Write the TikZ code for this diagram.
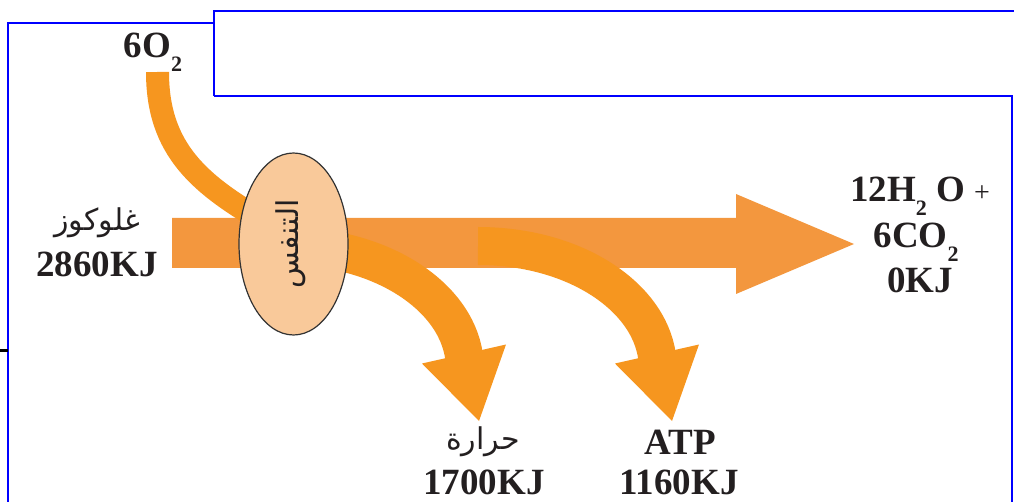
\documentclass[tikz,border=0pt]{standalone}
\usepackage{fontspec}
\usetikzlibrary{shapes.geometric}
\setmainfont{Liberation Serif}
\newfontfamily\arabicfont[Script=Arabic]{DejaVu Sans}
\TeXXeTstate=1
\definecolor{mainor}{HTML}{F3973E}
\definecolor{curveor}{HTML}{F6961F}
\definecolor{ellfill}{HTML}{F9C99A}
\definecolor{ink}{HTML}{231F20}
\definecolor{frameblue}{HTML}{0000FF}
\newcommand{\lowsub}[1]{\raisebox{-0.36em}{\fontsize{22}{22}\selectfont #1}}
\begin{document}
\begin{tikzpicture}[x=1pt,y=-1pt,
  lbl/.style={font=\fontsize{37}{37}\selectfont\bfseries, text=ink, inner sep=0pt, anchor=base},
  arlbl/.style={font=\arabicfont\fontsize{30}{30}\selectfont, text=ink, inner sep=0pt},
  band/.style={draw=curveor, line width=38pt},
  frameline/.style={draw=frameblue, line width=2pt}]
\useasboundingbox (0,0) rectangle (1014,502);
% frame lines
\draw[frameline] (8.3,502) -- (8.3,23.3) -- (214,23.3);
\draw[frameline] (214,95.7) -- (214,10.6) -- (1014,10.6);
\draw[frameline] (214,95.7) -- (1011.7,95.7) -- (1011.7,502);
\draw[black, line width=3pt] (0,350.7) -- (8.3,350.7);
% main arrow
\fill[mainor] (172,218) -- (736,218) -- (736,194) -- (854,244) -- (736,294) -- (736,268) -- (172,268) -- cycle;
% O2 band
\draw[curveor, line width=23pt] (157.5,72) .. controls (157.5,150) and (200,185) .. (268,224);
% heat band
\draw[band] (285,246) .. controls (380,246) and (455,295) .. (464,356);
\fill[curveor] (422,363.5) -- (479,421) -- (506,344.5) -- cycle;
% ATP band
\draw[band] (478,246) .. controls (573,246) and (648,295) .. (657,356);
\fill[curveor] (615,363.5) -- (672,421) -- (699,344.5) -- cycle;
% ellipse
\node[draw=black!80, line width=1.2pt, fill=ellfill, ellipse, minimum width=109pt, minimum height=182pt, inner sep=0pt] (resp) at (293.5,244) {};
\node[arlbl, rotate=90] (resptxt) at (291,244) {\beginR التنفس\endR};
% labels
\node[lbl] (oxy) at (153,58) {6O\lowsub{2}};
\node[arlbl] (gluc) at (97,223) {\beginR غلوكوز\endR};
\node[lbl] (glucE) at (97,276.7) {2860KJ};
\node[arlbl] (heat) at (483,442) {\beginR حرارة\endR};
\node[lbl] (heatE) at (484,494) {1700KJ};
\node[lbl] (atp) at (680,454) {ATP};
\node[lbl] (atpE) at (679,494) {1160KJ};
\node[lbl] (prodA) at (920,202) {12H\lowsub{2} O {\mdseries\fontsize{28}{28}\selectfont +}};
\node[lbl] (prodB) at (916,248) {6CO\lowsub{2}};
\node[lbl] (prodC) at (920,293) {0KJ};
\end{tikzpicture}
\end{document}
